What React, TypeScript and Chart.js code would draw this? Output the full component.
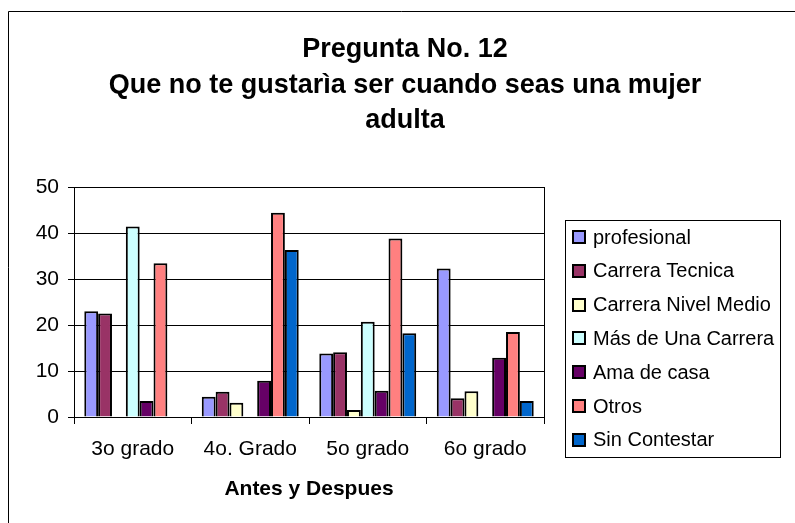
import React, { useEffect, useRef } from 'react';
import { Chart, registerables } from 'chart.js';

Chart.register(...registerables);

const categories = ['3o grado', '4o. Grado', '5o grado', '6o grado'];
const seriesNames = [
  'profesional',
  'Carrera Tecnica',
  'Carrera Nivel Medio',
  'Más de Una Carrera',
  'Ama de casa',
  'Otros',
  'Sin Contestar',
];
const profesional = [23, 4.4, 13.8, 32.3];
const carreraTecnica = [22.5, 5.5, 14.1, 4.1];
const carreraNivelMedio = [0, 3.1, 1.5, 5.6];
const masDeUnaCarrera = [41.4, 0, 20.7, 0];
const amaDeCasa = [3.5, 7.9, 5.7, 12.9];
const otros = [33.4, 44.4, 38.8, 18.5];
const sinContestar = [0, 36.3, 18.2, 3.5];
const seriesValues = [profesional, carreraTecnica, carreraNivelMedio, masDeUnaCarrera, amaDeCasa, otros, sinContestar];
const seriesColors = ['#9999FF', '#993366', '#FFFFCC', '#CCFFFF', '#660066', '#FF8080', '#0066CC'];
const yTicks = [0, 10, 20, 30, 40, 50];
const titleLines = ['Pregunta No. 12', 'Que no te gustarìa ser cuando seas una mujer', 'adulta'];
const xAxisTitle = 'Antes y Despues';

const FAMILY = "'Liberation Sans', Arial, sans-serif";

const decorPlugin = {
  id: 'decor',
  afterDraw(chart: any) {
    const ctx = chart.ctx as CanvasRenderingContext2D;
    const a = chart.chartArea;
    ctx.save();
    // outer frame (left & top visible)
    ctx.strokeStyle = '#000';
    ctx.lineWidth = 1;
    ctx.beginPath();
    ctx.moveTo(8.5, 523);
    ctx.lineTo(8.5, 11.5);
    ctx.lineTo(795, 11.5);
    ctx.stroke();
    // plot area right border
    const rx = Math.round(a.right) + 0.5;
    ctx.beginPath();
    ctx.moveTo(rx, a.top);
    ctx.lineTo(rx, a.bottom);
    ctx.stroke();
    // title
    ctx.fillStyle = '#000';
    ctx.font = `bold 27px ${FAMILY}`;
    ctx.textAlign = 'center';
    ctx.textBaseline = 'alphabetic';
    titleLines.forEach((t, i) => ctx.fillText(t, 405, 57 + i * 35.5));
    // legend
    ctx.font = `20px ${FAMILY}`;
    const ds = chart.data.datasets;
    let maxW = 0;
    ds.forEach((d: any) => {
      maxW = Math.max(maxW, ctx.measureText(d.label).width);
    });
    const boxX = 565.5;
    const boxY = 220.5;
    const textX = 593;
    const boxR = Math.round(textX + maxW + 6) + 0.5;
    const boxB = 457.5;
    ctx.strokeStyle = '#000';
    ctx.lineWidth = 1;
    ctx.strokeRect(boxX, boxY, boxR - boxX, boxB - boxY);
    ctx.textAlign = 'left';
    ctx.textBaseline = 'middle';
    ds.forEach((d: any, i: number) => {
      const cy = 237 + i * 33.8;
      ctx.fillStyle = d.backgroundColor;
      ctx.fillRect(572, Math.round(cy - 7), 14, 14);
      ctx.lineWidth = 2;
      ctx.strokeStyle = '#000';
      ctx.strokeRect(573, Math.round(cy - 7) + 1, 12, 12);
      ctx.fillStyle = '#000';
      ctx.fillText(d.label, textX, cy + 1);
    });
    ctx.restore();
  },
};

export default function App() {
  const ref = useRef<HTMLCanvasElement | null>(null);
  useEffect(() => {
    if (!ref.current) return;
    const chart = new Chart(ref.current, {
      type: 'bar',
      data: {
        labels: categories,
        datasets: seriesNames.map((name, i) => ({
          label: name,
          data: seriesValues[i],
          backgroundColor: seriesColors[i],
          borderColor: '#000',
          borderWidth: 2,
          barPercentage: 1,
          categoryPercentage: 0.825,
        })),
      },
      options: {
        responsive: false,
        animation: false,
        devicePixelRatio: 1,
        layout: { padding: { top: 187, right: 251, left: 0, bottom: 0 } },
        plugins: {
          legend: { display: false },
          title: { display: false },
          tooltip: { enabled: false },
        },
        scales: {
          x: {
            grid: {
              display: true,
              drawOnChartArea: false,
              drawTicks: true,
              tickLength: 7,
              color: '#000',
              offset: true,
            },
            border: { display: true, color: '#000', width: 1 },
            ticks: {
              font: { family: FAMILY, size: 21 },
              color: '#000',
              padding: 13,
              maxRotation: 0,
              autoSkip: false,
            },
            title: {
              display: true,
              text: xAxisTitle,
              font: { family: FAMILY, size: 21, weight: 'bold' },
              color: '#000',
              padding: { top: 0, bottom: 21 },
            },
            afterFit: (s: any) => {
              s.height = 106;
            },
          },
          y: {
            min: 0,
            max: 50,
            afterBuildTicks: (s: any) => {
              s.ticks = yTicks.map((v) => ({ value: v }));
            },
            grid: { color: '#000', tickLength: 6, drawTicks: true },
            border: { display: true, color: '#000', width: 1 },
            ticks: {
              font: { family: FAMILY, size: 21 },
              color: '#000',
              padding: 9,
            },
            afterFit: (s: any) => {
              s.width = 74;
            },
          },
        },
      },
      plugins: [decorPlugin],
    });
    return () => chart.destroy();
  }, []);
  return (
    <div style={{ position: 'fixed', left: 0, top: 0, width: 795, height: 523, background: '#fff' }}>
      <canvas ref={ref} width={795} height={523} style={{ display: 'block' }} />
    </div>
  );
}
